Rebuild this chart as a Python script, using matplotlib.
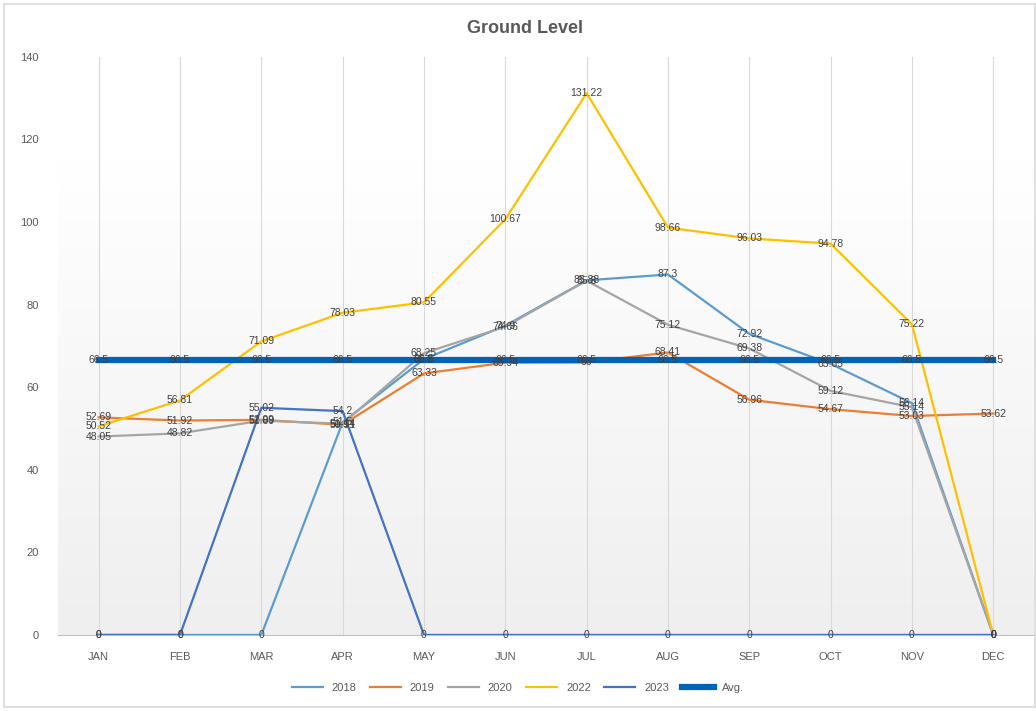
import numpy as np
import matplotlib
matplotlib.use("Agg")
import matplotlib.pyplot as plt
from matplotlib.patches import Rectangle

plt.rcParams['font.family'] = ['Liberation Sans', 'DejaVu Sans']

months = ["JAN", "FEB", "MAR", "APR", "MAY", "JUN", "JUL", "AUG", "SEP", "OCT", "NOV", "DEC"]
y2018 = [0, 0, 0, 51.5, 66.8, 74.9, 85.88, 87.3, 72.92, 65.65, 56.14, 0]
y2019 = [52.69, 51.92, 52.09, 50.91, 63.33, 65.94, 66.0, 68.41, 56.96, 54.67, 53.03, 53.62]
y2020 = [48.05, 48.82, 51.89, 51.14, 68.25, 74.66, 85.8, 75.12, 69.38, 59.12, 55.14, 0]
y2022 = [50.52, 56.81, 71.09, 78.03, 80.55, 100.67, 131.22, 98.66, 96.03, 94.78, 75.22, 0]
y2023 = [0, 0, 55.02, 54.2, 0, 0, 0, 0, 0, 0, 0, 0]
avg = [66.5] * 12

series = [
    ("2018", y2018, "#5B9BD5", 1.6),
    ("2019", y2019, "#ED7D31", 1.6),
    ("2020", y2020, "#A5A5A5", 1.6),
    ("2022", y2022, "#FFC000", 1.6),
    ("2023", y2023, "#4472C4", 1.6),
    ("Avg.", avg, "#0062B8", 4.5),
]

fig = plt.figure(figsize=(10.36, 7.11), dpi=100)
fig.patches.append(Rectangle((0.004, 0.006), 0.995, 0.988, transform=fig.transFigure,
                             fill=False, edgecolor="#D9D9D9", linewidth=1.2))
ax = fig.add_axes([0.056, 0.107, 0.942, 0.813])

x = np.arange(len(months))

# soft vertical gradient behind the plot area
grad = np.linspace(0, 1, 256).reshape(-1, 1)
cmap = matplotlib.colors.LinearSegmentedColormap.from_list("bg", ["#EFEFEF", "#FFFFFF"])
ax.imshow(grad, aspect="auto", cmap=cmap, extent=[-0.5, 11.5, 0, 115], origin="lower", zorder=0)

for xi in x:
    ax.axvline(xi, color="#D9D9D9", linewidth=0.8, zorder=1)

for name, vals, color, lw in series:
    ax.plot(x, vals, color=color, linewidth=lw, label=name, zorder=3)
    for xi, v in zip(x, vals):
        ax.text(xi, v, f"{v:g}", ha="center", va="center", fontsize=7.5,
                color="#404040", zorder=4)

ax.set_xlim(-0.5, 11.5)
ax.set_ylim(0, 140)
ax.set_yticks(range(0, 141, 20))
ax.set_xticks(x)
ax.set_xticklabels(months)
ax.tick_params(axis="both", length=0, labelsize=8, colors="#595959")
ax.tick_params(axis="x", pad=12)
ax.tick_params(axis="y", pad=14)
for side in ["top", "right", "left"]:
    ax.spines[side].set_visible(False)
ax.spines["bottom"].set_color("#BFBFBF")
ax.set_facecolor("white")

fig.text(0.507, 0.96, "Ground Level", ha="center", va="center", fontsize=13,
         fontweight="bold", color="#595959")

fig.legend(loc="center", bbox_to_anchor=(0.5, 0.032), ncol=6, frameon=False,
           fontsize=8, handlelength=2.8, columnspacing=1.2, labelcolor="#595959")

fig.savefig("out.png", dpi=100)
